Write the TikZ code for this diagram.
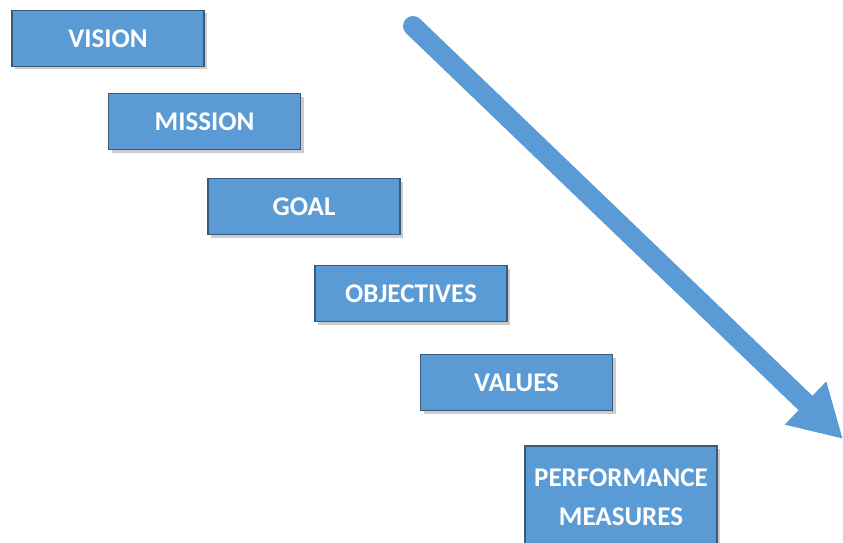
\documentclass[tikz,border=0pt]{standalone}
\usepackage{fontspec}
\setmainfont{Carlito}
\usetikzlibrary{arrows.meta,shadows}
\definecolor{boxblue}{HTML}{5B9BD5}
\definecolor{boxline}{HTML}{3A5A7A}
\begin{document}
\begin{tikzpicture}[x=1pt,y=-1pt,
		stepbox/.style={draw=boxline,line width=1.6pt,fill=boxblue,
			minimum width=192pt,minimum height=56pt,
			text=white,font=\fontsize{27}{39}\selectfont\bfseries,align=center,
			drop shadow={opacity=0.4,shadow xshift=3pt,shadow yshift=-3pt}}]
			\useasboundingbox (0,0) rectangle (843,543);
			\node[stepbox] (vision) at (108,38.5) {VISION};
			\node[stepbox] (mission) at (204.5,121.5) {MISSION};
			\node[stepbox] (goal) at (304,206.5) {GOAL};
			\node[stepbox] (objectives) at (411,293.5) {OBJECTIVES};
			\node[stepbox] (values) at (516.5,382.5) {VALUES};
			\node[stepbox,minimum height=102pt,anchor=north] (measures) at (621,445) {PERFORMANCE\\MEASURES};
			% flow arrow
			\coordinate (top) at (413,26);
			\coordinate (tip) at (843,439);
			\draw[boxblue,line width=20pt,line cap=round,-{Triangle[width=56pt,length=52pt]}] (top) -- (tip);
		\end{tikzpicture}
\end{document}
